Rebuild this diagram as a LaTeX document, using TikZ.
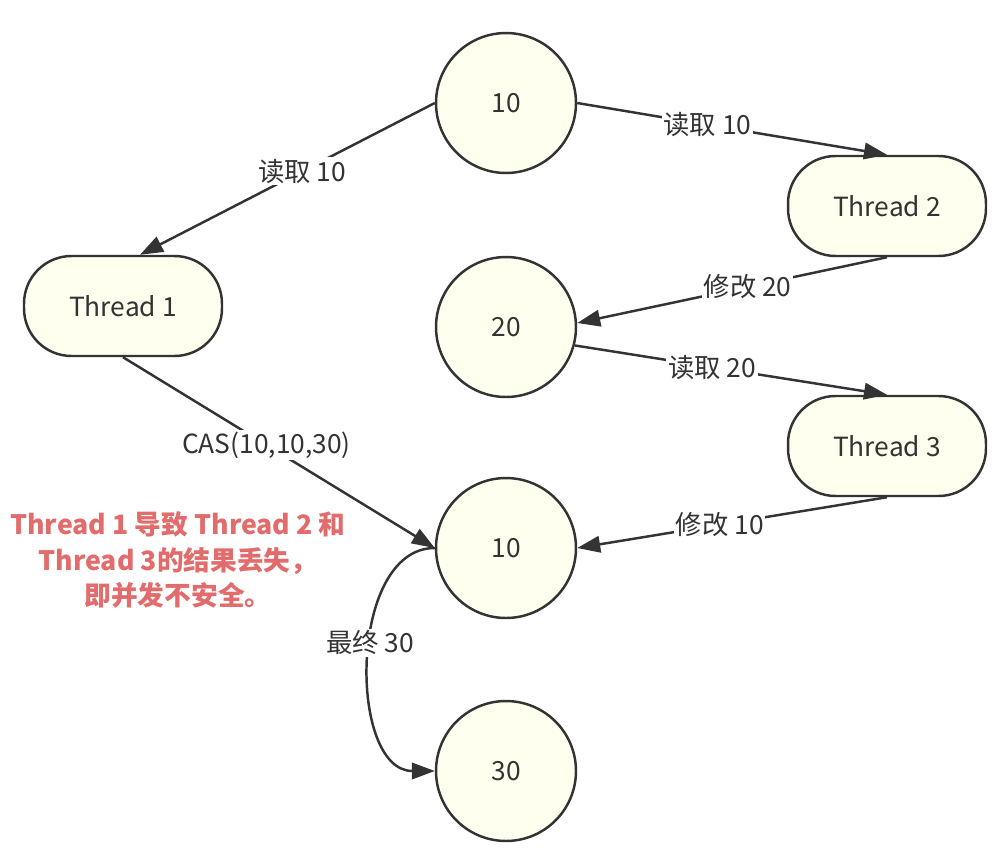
\documentclass[tikz,border=0pt]{standalone}
\usepackage{fontspec}
\setmainfont{Noto Sans CJK SC}
\usepackage{tikz}
\usetikzlibrary{arrows.meta,positioning,calc}
\definecolor{fondnode}{HTML}{FEFFEF}
\definecolor{traitC}{HTML}{333333}
\definecolor{alertred}{HTML}{E26B6B}
\tikzset{
  valeur/.style={circle, draw=traitC, line width=1.4pt, fill=fondnode, minimum size=2.8cm,
                 text=traitC, font=\fontsize{15}{18}\selectfont},
  fil/.style={rectangle, rounded corners=0.95cm, draw=traitC, line width=1.4pt, fill=fondnode,
              minimum width=3.96cm, minimum height=2cm, text=traitC, font=\fontsize{15}{18}\selectfont},
  arr/.style={-{Triangle[length=4.6mm,width=3.3mm]}, line width=1.4pt, draw=traitC},
  lbl/.style={fill=white, inner sep=1pt, text=traitC, font=\fontsize{15}{18}\selectfont},
}
\begin{document}
\begin{tikzpicture}[x=0.02cm,y=-0.02cm]
  \useasboundingbox (0,0) rectangle (1008,866);
  \node[valeur] (v10a) at (506,103) {10};
  \node[fil] (t2) at (887,206) {Thread 2};
  \node[fil] (t1) at (123,306) {Thread 1};
  \node[valeur] (v20) at (506,327) {20};
  \node[fil] (t3) at (887,446) {Thread 3};
  \node[valeur] (v10b) at (506,548) {10};
  \node[valeur] (v30) at (506,771) {30};
  \node[text=alertred, align=center, font=\fontsize{15.2}{20}\selectfont\bfseries] (note) at (178,560)
    {Thread 1 导致 Thread 2 和\\Thread 3的结果丢失，\\即并发不安全。};
  \draw[arr] (v10a.west) -- node[lbl, pos=0.45] {读取 10} ([xshift=0.34cm]t1.north);
  \draw[arr] (v10a.east) -- node[lbl, pos=0.42] {读取 10} (t2.north);
  \draw[arr] (t2.south) -- node[lbl, pos=0.45] {修改 20} ([yshift=0.08cm]v20.east);
  \draw[arr] (v20.-15) -- node[lbl, pos=0.44] {读取 20} (t3.north);
  \draw[arr] (t3.south) -- node[lbl, pos=0.54] {修改 10} (v10b.east);
  \draw[arr] (t1.south) -- node[lbl, pos=0.46] {CAS(10,10,30)} (v10b.west);
  \draw[arr] (v10b.west) to[out=180, in=180] node[lbl, pos=0.45] {最终 30} (v30.west);
\end{tikzpicture}
\end{document}
